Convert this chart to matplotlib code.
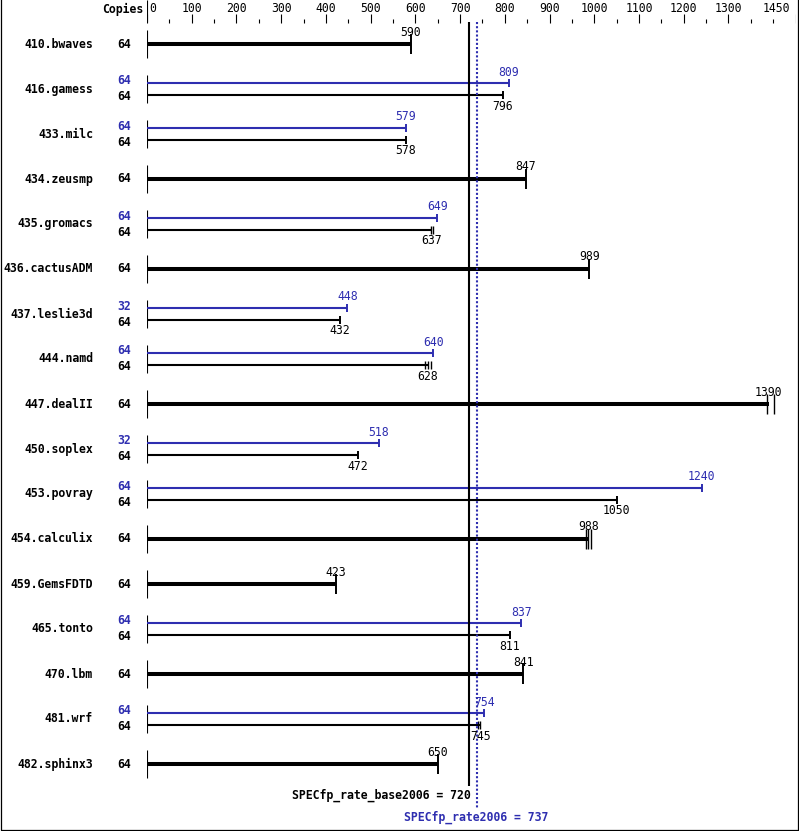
import matplotlib
matplotlib.use('Agg')
import matplotlib.pyplot as plt
from matplotlib.transforms import blended_transform_factory
from matplotlib.lines import Line2D

benchmarks = ["410.bwaves", "416.gamess", "433.milc", "434.zeusmp", "435.gromacs",
              "436.cactusADM", "437.leslie3d", "444.namd", "447.dealII", "450.soplex",
              "453.povray", "454.calculix", "459.GemsFDTD", "465.tonto", "470.lbm",
              "481.wrf", "482.sphinx3"]
base_copies = [64, 64, 64, 64, 64, 64, 64, 64, 64, 64, 64, 64, 64, 64, 64, 64, 64]
peak_copies = [None, 64, 64, None, 64, None, 32, 64, None, 32, 64, None, None, 64, None, 64, None]
base_values = [590, 796, 578, 847, 637, 989, 432, 628, 1390, 472, 1050, 988, 423, 811, 841, 745, 650]
peak_values = [None, 809, 579, None, 649, None, 448, 640, None, 518, 1240, None, None, 837, None, 754, None]
base_runs = [[590], [796], [578], [847], [634, 640], [989], [432], [622, 628, 634],
             [1387, 1403], [472], [1050], [981, 987, 993], [423], [811], [841],
             [739, 745], [650]]
base_score = 720
peak_score = 737
major_ticks = [0, 100, 200, 300, 400, 500, 600, 700, 800, 900, 1000, 1100, 1200, 1300, 1450]
minor_ticks = [50, 150, 250, 350, 450, 550, 650, 750, 850, 950, 1050, 1150, 1250, 1350, 1400]

BLUE = '#2e2eb0'
W, H = 799, 831
X0, X1 = 147, 795.5
FONT = 'DejaVu Sans Mono'
FS = 8.3

fig = plt.figure(figsize=(W / 100, H / 100), dpi=100)
ax = fig.add_axes([X0 / W, 0, (X1 - X0) / W, 1])
ax.set_xlim(0, 1450)
ax.set_ylim(H, 0)
ax.axis('off')
trans = blended_transform_factory(fig.transFigure, ax.transData)

# top scale
ax.vlines(0, 0, 22, color='k', lw=0.8)
for t in major_ticks:
    ax.vlines(t, 14, 23, color='k', lw=0.8)
    if t == 0:
        ax.text(t + 6, 8, str(t), ha='left', va='center', fontsize=FS, family=FONT)
    elif t == 1450:
        ax.text(t - 13, 8, str(t), ha='right', va='center', fontsize=FS, family=FONT)
    else:
        ax.text(t, 8, str(t), ha='center', va='center', fontsize=FS, family=FONT)
for t in minor_ticks:
    ax.vlines(t, 19, 23, color='k', lw=0.8)
ax.text(143 / W, 9, "Copies", transform=trans, ha='right', va='center',
        fontsize=FS, family=FONT, weight='bold')

for i, name in enumerate(benchmarks):
    yc = 44 + 45 * i
    ax.vlines(0, yc - 14, yc + 14, color='k', lw=0.8)
    ax.text(93 / W, yc, name, transform=trans, ha='right', va='center',
            fontsize=FS, family=FONT, weight='bold')
    b = base_values[i]
    p = peak_values[i]
    runs = base_runs[i]
    run_lw = 1.4 if len(runs) == 1 else 1.0
    if p is None:
        ax.hlines(yc, 0, b, color='k', lw=2.9)
        for r in runs:
            ax.vlines(r, yc - 10, yc + 10, color='k', lw=run_lw)
        ax.text(b, yc - 12, str(b), ha='center', va='center', fontsize=FS, family=FONT)
        ax.text(131 / W, yc, str(base_copies[i]), transform=trans, ha='right',
                va='center', fontsize=FS, family=FONT, weight='bold')
    else:
        yp, yb = yc - 6, yc + 6
        ax.hlines(yp, 0, p, color=BLUE, lw=1.5)
        ax.vlines(p, yp - 4, yp + 4, color=BLUE, lw=1.4)
        ax.text(p, yp - 11, str(p), ha='center', va='center', fontsize=FS,
                family=FONT, color=BLUE)
        ax.hlines(yb, 0, b, color='k', lw=1.5)
        for r in runs:
            ax.vlines(r, yb - 4, yb + 4, color='k', lw=run_lw)
        ax.text(b, yb + 11, str(b), ha='center', va='center', fontsize=FS, family=FONT)
        ax.text(131 / W, yp - 2, str(peak_copies[i]), transform=trans, ha='right',
                va='center', fontsize=FS, family=FONT, weight='bold', color=BLUE)
        ax.text(131 / W, yb + 2, str(base_copies[i]), transform=trans, ha='right',
                va='center', fontsize=FS, family=FONT, weight='bold')

# overall score lines
ax.vlines(base_score, 22, 786, color='k', lw=1.5)
ax.vlines(peak_score, 22, 808, color=BLUE, lw=1.5, linestyles=[(0, (1, 1))])
ax.text(base_score + 3, 795, "SPECfp_rate_base2006 = %d" % base_score, ha='right',
        va='center', fontsize=FS, family=FONT, weight='bold')
ax.text(peak_score, 817, "SPECfp_rate2006 = %d" % peak_score, ha='center',
        va='center', fontsize=FS, family=FONT, weight='bold', color=BLUE)

# frame: left, bottom, right (no top edge)
fx0, fx1 = 0.5 / W, (W - 1.2) / W
fy0 = 1.2 / H
fig.add_artist(Line2D([fx0, fx0, fx1, fx1], [1, fy0, fy0, 1],
                      transform=fig.transFigure, color='k', lw=0.9))

fig.savefig('out.png', dpi=100)
